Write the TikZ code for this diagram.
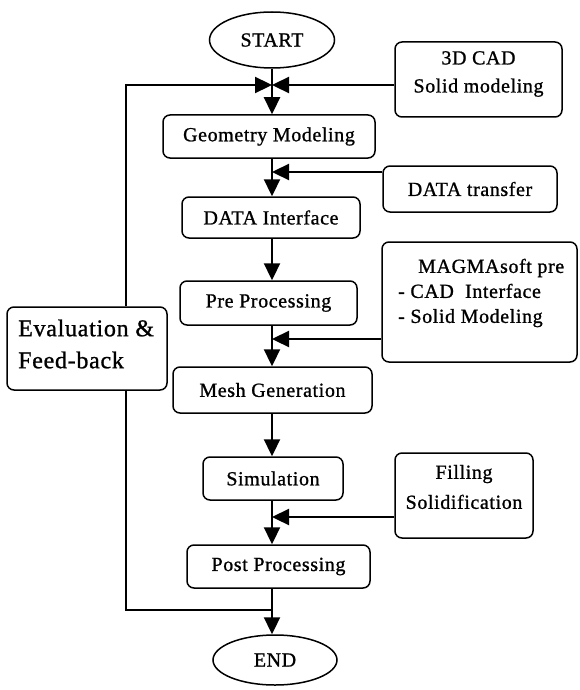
\documentclass[tikz,border=0pt]{standalone}
\usepackage{fontspec}
\setmainfont{Liberation Serif}[LetterSpace=3,FakeBold=1]
\usetikzlibrary{arrows.meta,shapes.geometric}
\newcommand\mainfs{\fontsize{20}{28}\selectfont}
\begin{document}
\begin{tikzpicture}[x=1pt,y=-1pt,
  box/.style={draw, rounded corners=7pt, line width=1.5pt, inner sep=0pt, font=\mainfs},
  oval/.style={draw, ellipse, line width=1.5pt, inner sep=0pt, font=\mainfs},
  conn/.style={line width=2.3pt},
  arr/.style={conn, -{Triangle[length=17pt,width=16pt]}},
  txt/.style={inner sep=0pt, font=\mainfs, align=center}]
\useasboundingbox (0,0) rectangle (579,690);

% main flow
\node[oval, minimum width=125pt, minimum height=56pt] (start) at (272,40) {START};
\node[box, minimum width=212pt, minimum height=43pt] (geo) at (269,136.5) {Geometry Modeling};
\node[box, minimum width=178pt, minimum height=41pt] (dint) at (271,217.5) {DATA Interface};
\node[box, minimum width=177pt, minimum height=44pt] (pre) at (268.5,303) {Pre Processing};
\node[box, minimum width=199pt, minimum height=46pt] (mesh) at (272.5,390) {Mesh Generation};
\node[box, minimum width=140pt, minimum height=43pt] (sim) at (273,478.5) {Simulation};
\node[box, minimum width=183pt, minimum height=43pt] (post) at (278.5,566.5) {Post Processing};
\node[oval, minimum width=124pt, minimum height=50pt] (stop) at (275,660) {END};

% side boxes
\node[box, minimum width=167pt, minimum height=75pt] (cad) at (478.5,79.5) {};
\node[txt] (cadtxt) at (478.5,74) {3D CAD\\Solid modeling};
\node[box, minimum width=174pt, minimum height=46pt] (dtr) at (470,189) {DATA transfer};
\node[box, minimum width=195pt, minimum height=120pt] (magma) at (479.5,302) {};
\node[txt, align=left, anchor=west, font=\fontsize{20}{25}\selectfont] (magtxt) at (398,293)
  {\hspace*{20pt}MAGMAsoft pre\\- CAD\ \ Interface\\- Solid Modeling};
\node[box, minimum width=138pt, minimum height=85pt] (fill) at (464,495.5) {};
\node[txt, font=\fontsize{20}{30}\selectfont] (filltxt) at (464,487) {Filling\\Solidification};
\node[box, minimum width=160pt, minimum height=83pt] (eval) at (87,348.5) {};
\node[txt, align=left, anchor=west, font=\fontsize{24}{32}\selectfont] (evaltxt) at (18,344)
  {Evaluation \&\\Feed-back};

% junctions
\coordinate (j1) at (272,85);
\coordinate (j2) at (272,172);
\coordinate (j3) at (272,339);
\coordinate (j4) at (272,517);
\coordinate (j5) at (272,610);
\coordinate (fb) at (126,85);

% connectors
\draw[conn] (start) -- (j1);
\draw[arr] (j1) -- (j1 |- geo.north);
\draw[arr] (cad.west |- j1) -- (j1);
\draw[arr] (fb |- eval.north) -- (fb) -- (j1);
\draw[arr] (j1 |- geo.south) -- (j1 |- dint.north);
\draw[arr] (dtr.west |- j2) -- (j2);
\draw[arr] (j1 |- dint.south) -- (j1 |- pre.north);
\draw[arr] (j1 |- pre.south) -- (j1 |- mesh.north);
\draw[arr] (magma.west |- j3) -- (j3);
\draw[arr] (j1 |- mesh.south) -- (j1 |- sim.north);
\draw[arr] (j1 |- sim.south) -- (j1 |- post.north);
\draw[arr] (fill.west |- j4) -- (j4);
\draw[arr] (j1 |- post.south) -- (j1 |- stop.north);
\draw[conn] (fb |- eval.south) -- (fb |- j5) -- (j5);
\end{tikzpicture}
\end{document}
